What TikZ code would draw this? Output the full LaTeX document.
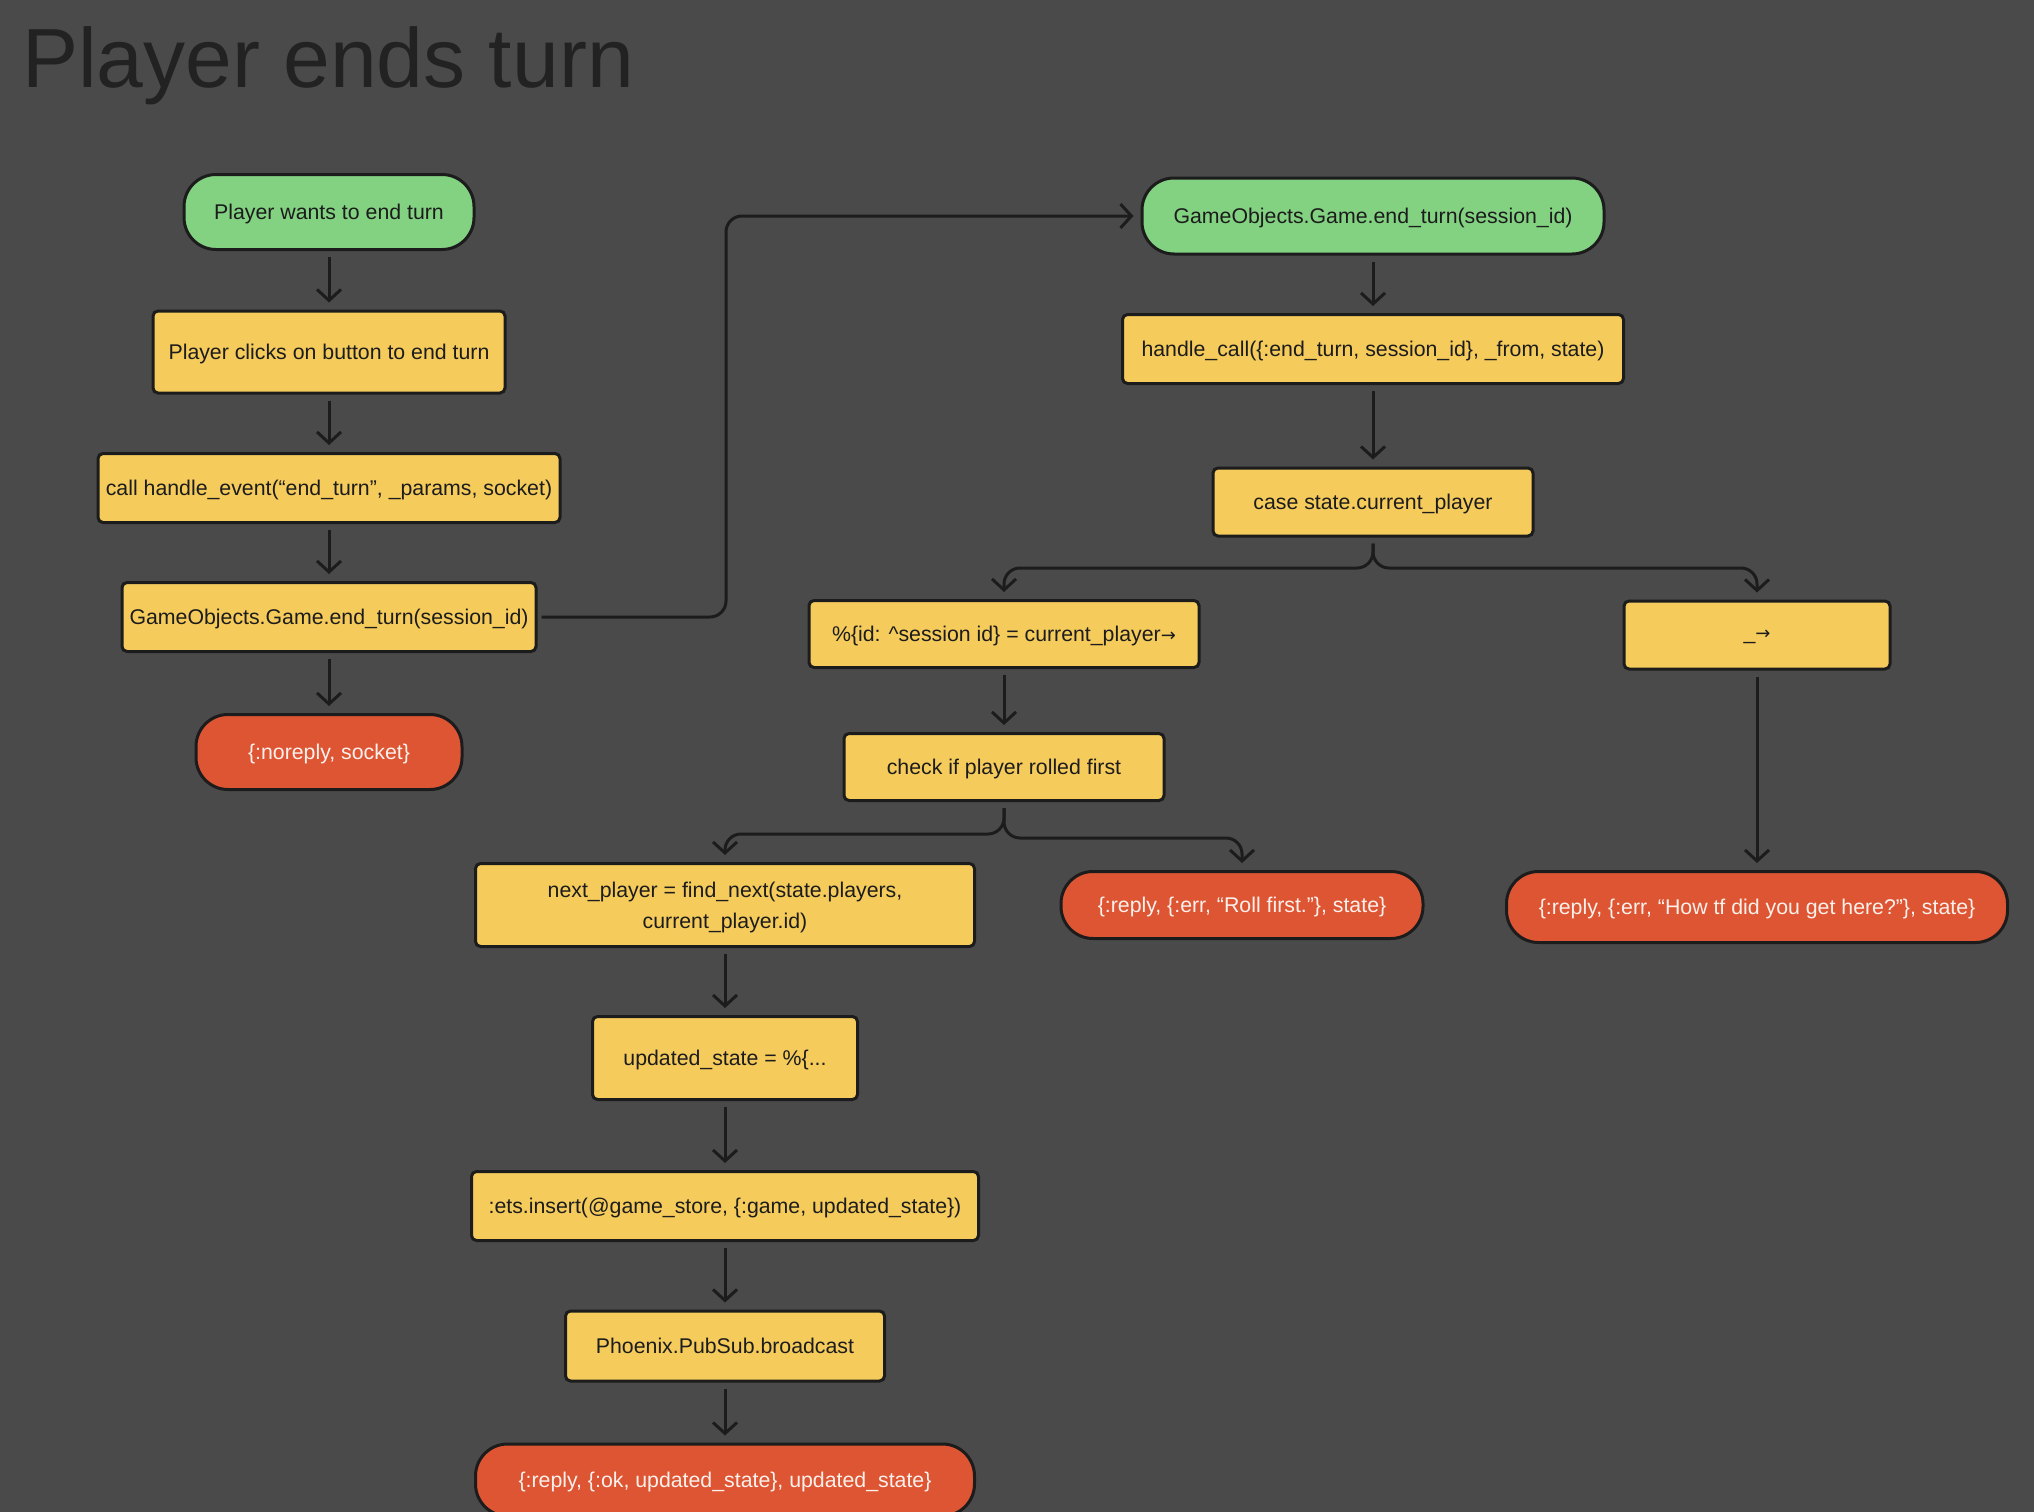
\documentclass[tikz,border=0pt]{standalone}
\usepackage{fontspec}
\setmainfont{Liberation Sans}
\newfontfamily\arrowfont{DejaVu Sans}
\usetikzlibrary{arrows.meta,calc}
\definecolor{bg}{HTML}{4A4A4A}
\definecolor{ink}{HTML}{1C1C1C}
\definecolor{fgreen}{HTML}{82D282}
\definecolor{fyellow}{HTML}{F5CB5C}
\definecolor{fred}{HTML}{DE5533}
\definecolor{redtext}{HTML}{FBF1EC}
\definecolor{titlec}{HTML}{222222}
\newcommand\mynodefont{\fontsize{21.3}{31}\selectfont}
\newcommand\myarrow{{\arrowfont\fontsize{18}{18}\selectfont →}}
\begin{document}
\begin{tikzpicture}[x=1pt,y=-1pt,
  box/.style={draw=ink, line width=3pt, rounded corners=5pt, inner sep=0pt, font=\mynodefont, text=ink, align=center, text depth=0pt},
  ybox/.style={box, fill=fyellow},
  gbox/.style={box, fill=fgreen, rounded corners=32pt},
  rbox/.style={box, fill=fred, rounded corners=32pt, text=redtext},
  sz/.style 2 args={minimum width=#1pt, minimum height=#2pt},
  arr/.style={draw=ink, line width=3pt, -{Straight Barb[length=11pt,width=24pt]}, shorten <=6pt, shorten >=7pt},
]
\useasboundingbox (0,0) rectangle (2034,1512);
\clip (0,0) rectangle (2034,1512);
\fill[bg] (0,0) rectangle (2034,1512);

\node[anchor=base west, text=titlec, font=\fontsize{84}{90}\selectfont, inner sep=0pt] (title) at (22,87) {Player ends turn};

% left column
\node[gbox, sz={290}{75}] (n1) at (329,212) {Player wants to end turn};
\node[ybox, sz={352}{82}] (n2) at (329,352) {Player clicks on button to end turn};
\node[ybox, sz={462}{69}] (n3) at (329,488) {call handle\_event(“end\_turn”, \_params, socket)};
\node[ybox, sz={414}{69}] (gobL) at (329,617) {GameObjects.Game.end\_turn(session\_id)};
\node[rbox, sz={266}{75}] (noreply) at (329,752) {\{:noreply, socket\}};

% right column
\node[gbox, sz={462}{76}] (gr) at (1373,216) {GameObjects.Game.end\_turn(session\_id)};
\node[ybox, sz={501}{69}] (hc) at (1373,349) {handle\_call(\{:end\_turn, session\_id\}, \_from, state)};
\node[ybox, sz={320}{68}] (case) at (1373,502) {case state.current\_player};

\node[ybox, sz={390}{67}] (pm) at (1004,634) {\%\{id: \textasciicircum session id\} = current\_player\myarrow};
\node[ybox, sz={266}{68}] (us) at (1757,635) {\_\myarrow};
\node[rbox, sz={501}{71}] (howtf) at (1757,907) {\{:reply, \{:err, “How tf did you get here?”\}, state\}};

\node[ybox, sz={320}{67}] (check) at (1004,767) {check if player rolled first};
\node[ybox, sz={499}{83}] (np) at (725,905) {next\_player = find\_next(state.players,\\current\_player.id)};
\node[rbox, sz={362}{67}] (roll) at (1242,905) {\{:reply, \{:err, “Roll first.”\}, state\}};
\node[ybox, sz={265}{83}] (upd) at (725,1058) {updated\_state = \%\{...};
\node[ybox, sz={507}{69}] (ets) at (725,1206) {:ets.insert(@game\_store, \{:game, updated\_state\})};
\node[ybox, sz={319}{70}] (phx) at (725,1346) {Phoenix.PubSub.broadcast};
\node[rbox, sz={499}{72}] (fin) at (725,1480) {\{:reply, \{:ok, updated\_state\}, updated\_state\}};

\coordinate (jx) at (726,0);
\coordinate (b1) at (0,568);
\coordinate (b2) at (0,834);
\coordinate (b3) at (0,838);

\draw[arr] (n1) -- (n2);
\draw[arr] (n2) -- (n3);
\draw[arr] (n3) -- (gobL);
\draw[arr] (gobL) -- (noreply);
\draw[arr, rounded corners=16pt, shorten <=4pt] (gobL.east) -- (gobL.east -| jx) |- (gr.west);
\draw[arr] (gr) -- (hc);
\draw[arr] (hc) -- (case);
\draw[arr, rounded corners=16pt] (case.south) |- (pm.north |- b1) -- (pm.north);
\draw[arr, rounded corners=16pt] (case.south) |- (us.north |- b1) -- (us.north);
\draw[arr] (pm) -- (check);
\draw[arr] (us) -- (howtf);
\draw[arr, rounded corners=16pt] (check.south) |- (np.north |- b2) -- (np.north);
\draw[arr, rounded corners=16pt] (check.south) |- (roll.north |- b3) -- (roll.north);
\draw[arr] (np) -- (upd);
\draw[arr] (upd) -- (ets);
\draw[arr] (ets) -- (phx);
\draw[arr] (phx) -- (fin);
\end{tikzpicture}
\end{document}
